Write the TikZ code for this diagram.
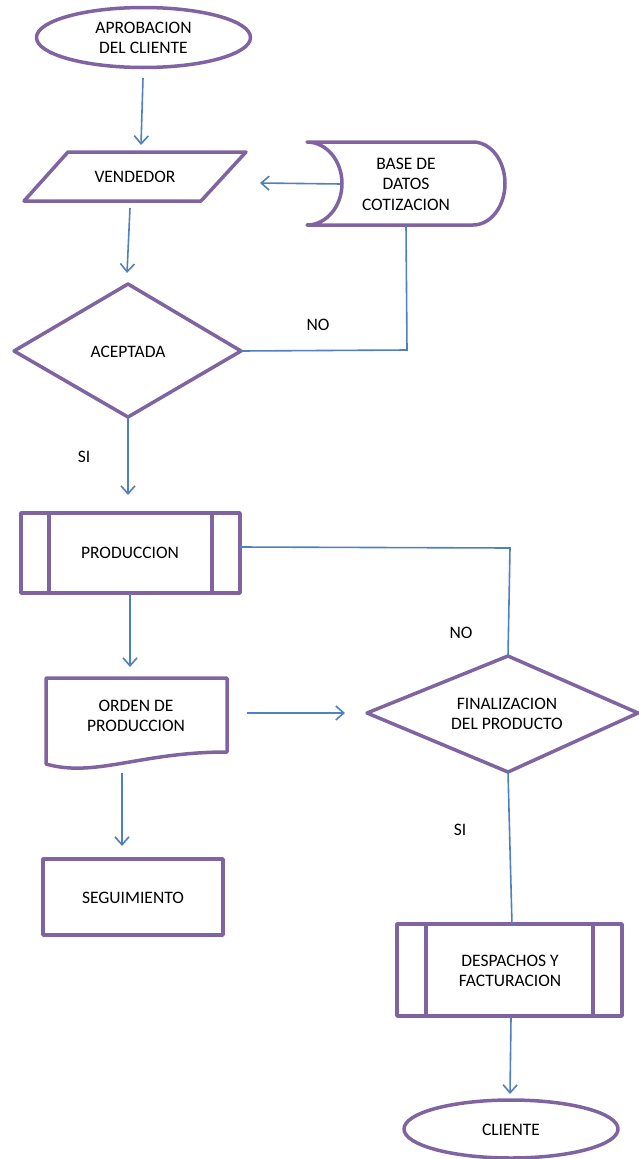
\documentclass[tikz,border=0pt]{standalone}
\usepackage{fontspec}
\setmainfont{Carlito}
\usetikzlibrary{arrows.meta}
\definecolor{shapepurple}{HTML}{8064A2}
\definecolor{flowblue}{HTML}{4F81BD}
\begin{document}
\begin{tikzpicture}[x=1pt,y=-1pt,
  outline/.style={draw=shapepurple,line width=3.5pt,line join=round,fill=white},
  flow/.style={draw=flowblue,line width=1.6pt},
  arr/.style={flow,-{Straight Barb[length=8pt,width=14pt,line width=1.6pt]}},
  lbl/.style={font=\fontsize{17.5}{20.5}\selectfont,align=center,text=black,inner sep=0pt}]
\useasboundingbox (0,0) rectangle (639,1159);
\fill[white] (0,0) rectangle (639,1159);

% start terminal
\draw[outline] (143.5,37.5) ellipse [x radius=107, y radius=30];
\node[lbl] (start) at (143.5,38) {APROBACION\\DEL CLIENTE};

% seller (input/output)
\draw[outline] (68,152) -- (246,152) -- (201,201) -- (24,201) -- cycle;
\node[lbl] (vend) at (135,177) {VENDEDOR};

% quotation database (stored data)
\draw[outline] (307,142) -- (473,142)
  .. controls (490.7,142) and (505,160.6) .. (505,183.5)
  .. controls (505,206.4) and (490.7,225) .. (473,225) -- (307,225)
  .. controls (326.3,225) and (342,206.4) .. (342,183.5)
  .. controls (342,160.6) and (326.3,142) .. (307,142) -- cycle;
\node[lbl] (base) at (406,184) {BASE DE\\DATOS\\COTIZACION};

% accepted? decision
\draw[outline] (128,284) -- (241,351) -- (128,417) -- (14,351) -- cycle;
\node[lbl] (acep) at (128,352) {ACEPTADA};

% production (predefined process)
\draw[outline] (21,513) rectangle (240,593);
\draw[outline] (49,513) -- (49,593) (212,513) -- (212,593);
\node[lbl] (prod) at (130,553) {PRODUCCION};

% production order (document)
\draw[outline] (46,678) -- (227,678) -- (227,752)
  .. controls (140,752) and (95,778) .. (46,764) -- cycle;
\node[lbl] (orden) at (136,716) {ORDEN DE\\PRODUCCION};

% follow-up (process)
\draw[outline] (43,859) rectangle (223,935);
\node[lbl] (seg) at (133,898) {SEGUIMIENTO};

% product finished? decision
\draw[outline] (508,656) -- (638,713) -- (508,772) -- (367,713) -- cycle;
\node[lbl] (fin) at (507,714) {FINALIZACION\\DEL PRODUCTO};

% dispatch and invoicing (predefined process)
\draw[outline] (397,924) rectangle (622,1016);
\draw[outline] (426,924) -- (426,1016) (593,924) -- (593,1016);
\node[lbl] (desp) at (510,971) {DESPACHOS Y\\FACTURACION};

% end terminal
\draw[outline] (511,1129) ellipse [x radius=107, y radius=29];
\node[lbl] (cli) at (511,1130) {CLIENTE};

% branch labels
\node[lbl] (no1) at (318,325) {NO};
\node[lbl] (si1) at (84,457) {SI};
\node[lbl] (no2) at (461,633) {NO};
\node[lbl] (si2) at (460,830) {SI};

% connector end points
\coordinate (startS) at (143,78);
\coordinate (vendN) at (141,145);
\coordinate (vendS) at (130,208);
\coordinate (vendE) at (260,183);
\coordinate (baseW) at (341,184);
\coordinate (baseS) at (406,225);
\coordinate (baseC) at (407,350);
\coordinate (acepN) at (127,273);
\coordinate (acepE) at (241,351);
\coordinate (acepS) at (128,417);
\coordinate (prodN) at (128,495);
\coordinate (prodE) at (240,547);
\coordinate (prodC) at (510,548);
\coordinate (prodS) at (130,593);
\coordinate (ordenN) at (130,667);
\coordinate (ordenE) at (247,713);
\coordinate (ordenS) at (122,773);
\coordinate (segN) at (122,846);
\coordinate (finW) at (345,713);
\coordinate (finN) at (508,656);
\coordinate (finS) at (508,772);
\coordinate (despN) at (512,925);
\coordinate (despS) at (511,1018);
\coordinate (cliN) at (510,1094);

% connectors
\draw[arr] (startS) -- (vendN);
\draw[arr] (baseW) -- (vendE);
\draw[arr] (vendS) -- (acepN);
\draw[flow] (baseS) -- (baseC) -- (acepE);
\draw[arr] (acepS) -- (prodN);
\draw[flow] (prodE) -- (prodC) -- (finN);
\draw[arr] (prodS) -- (ordenN);
\draw[arr] (ordenE) -- (finW);
\draw[flow] (finS) -- (despN);
\draw[arr] (ordenS) -- (segN);
\draw[arr] (despS) -- (cliN);
\end{tikzpicture}
\end{document}
